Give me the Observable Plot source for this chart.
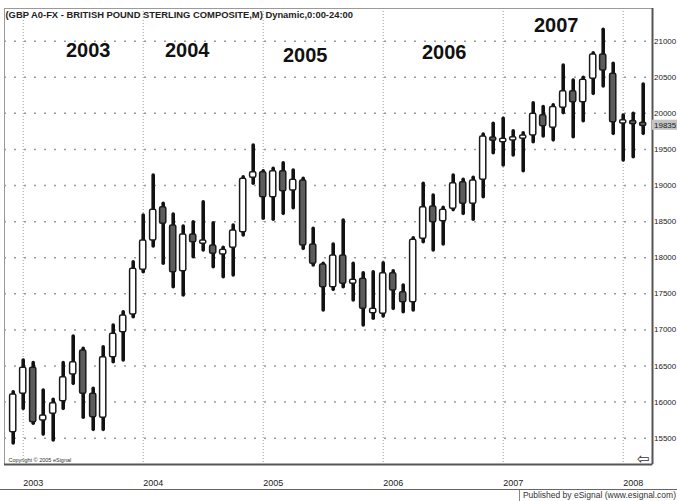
<!DOCTYPE html>
<html><head><meta charset="utf-8">
<script src="https://cdn.jsdelivr.net/npm/d3@7"></script>
<script src="https://cdn.jsdelivr.net/npm/@observablehq/plot@0.6"></script>
<style>
html,body{margin:0;padding:0;background:#fff;}
#chart{width:677px;height:501px;overflow:hidden;position:relative;background:#fff;}
#chart svg{position:absolute;left:0;top:0;}
#footer{position:absolute;left:0;top:489px;width:677px;height:12px;border-top:1px solid #666;}
#footer span{position:absolute;right:0;top:0;height:11px;font:8.5px "Liberation Sans Narrow","Liberation Sans",Arial,sans-serif;color:#333;border-left:1px solid #888;padding:0 1px 0 3px;line-height:11px;white-space:nowrap;}
</style></head><body><div id="chart"></div>
<script>
const months = ["2002-12",
 "2003-01","2003-02","2003-03","2003-04","2003-05","2003-06","2003-07","2003-08","2003-09","2003-10","2003-11","2003-12",
 "2004-01","2004-02","2004-03","2004-04","2004-05","2004-06","2004-07","2004-08","2004-09","2004-10","2004-11","2004-12",
 "2005-01","2005-02","2005-03","2005-04","2005-05","2005-06","2005-07","2005-08","2005-09","2005-10","2005-11","2005-12",
 "2006-01","2006-02","2006-03","2006-04","2006-05","2006-06","2006-07","2006-08","2006-09","2006-10","2006-11","2006-12",
 "2007-01","2007-02","2007-03","2007-04","2007-05","2007-06","2007-07","2007-08","2007-09","2007-10","2007-11","2007-12",
 "2008-01","2008-02","2008-03"];
const open = [15583,
 16115,16475,15745,15838,16012,16382,16715,16115,15783,16622,16968,17213,
 17832,18238,18700,18446,17813,18321,18201,18169,18044,18137,18353,19107,
 19184,18838,19198,18931,19069,18183,17906,17591,18030,17638,17708,17231,
 17223,17785,17522,17384,18262,18709,18506,18677,19046,18747,19079,19661,
 19600,19633,19647,19692,19972,19802,20077,20307,20154,20478,20814,20547,
 19877,19885,19860];
const high = [16137,
 16576,16540,16160,16032,16540,16909,16738,16184,16760,17061,17245,17938,
 18584,19139,18747,18598,18432,18492,18769,18478,18137,18446,19115,19554,
 19198,19231,19309,19208,19093,18400,17916,18183,18515,17916,17785,17799,
 17924,17813,17615,18270,19024,18861,18691,19139,19079,19107,19706,19855,
 19924,19752,19724,20139,20088,20111,20662,20454,20492,20832,21157,20686,
 19970,19993,20399];
const low = [15427,
 15907,15700,15550,15468,15907,16253,15783,15616,15616,16553,16576,17176,
 17799,18155,17916,17591,17476,18007,18100,17868,17730,17753,18307,19024,
 18539,18525,18608,18686,18123,17892,17269,17555,17591,17407,17061,17154,
 17186,17292,17245,17269,18215,18100,18183,18660,18608,18525,18838,19447,
 19277,19416,19198,19600,19679,19626,20003,19670,19891,20270,20371,19716,
 19346,19392,19716];
const close = [16105,
 16475,15720,15814,15985,16345,16553,16115,15791,16622,16946,17199,17846,
 18238,18663,18470,17799,18321,18215,18230,18054,18109,18377,19093,19184,
 18838,19198,18921,19079,18169,17916,17591,18030,17638,17694,17292,17292,
 17785,17546,17384,18248,18700,18492,18663,19032,18747,19069,19679,19623,
 19647,19661,19692,19993,19820,20088,20307,20154,20464,20814,20593,19877,
 19885,19860,19835];

const priceTicks = [15500,16000,16500,17000,17500,18000,18500,19000,19500,20000,20500,21000];
const yearLabels = ["2003","2004","2005","2006","2007","2008"];
const yearStartIdx = [1,13,25,37,49,61];
const annotText = ["2003","2004","2005","2006","2007"];
const annotIdx = [7.5,17.4,29.2,43.1,54.3];
const annotPrice = [20870,20870,20800,20842,21216];
const titleText = "(GBP A0-FX - BRITISH POUND STERLING COMPOSITE,M) Dynamic,0:00-24:00";
const copyrightText = "Copyright © 2005 eSignal";
const footerText = "Published by eSignal (www.esignal.com)";

const minBody = 45;
const data = months.map((m, i) => {
  const o = open[i], h = high[i], l = low[i], c = close[i];
  let bt = Math.max(o, c), bb = Math.min(o, c);
  if (bt - bb < minBody) { const mid = (bt + bb) / 2; bt = mid + minBody / 2; bb = mid - minBody / 2; }
  return {i, m, o, h, l, c, bt, bb, up: c >= o};
});

const X0 = -0.87, X1 = 63.93;
const Y0 = 15136, Y1 = 21452;
const narrow = '"Liberation Sans Narrow","Liberation Sans",Arial,sans-serif';
const lastClose = close[close.length - 1];

const chart = Plot.plot({
  width: 677, height: 490,
  marginLeft: 4, marginRight: 25, marginTop: 8, marginBottom: 26,
  x: {domain: [X0, X1], axis: null, label: null},
  y: {domain: [Y0, Y1], axis: null, label: null},
  style: {fontFamily: narrow, background: "#fff", overflow: "visible", color: "#222"},
  marks: [
    Plot.ruleY(priceTicks, {stroke: "#9a9a9a", strokeDasharray: "2,8", strokeWidth: 1.5}),
    Plot.ruleX(yearStartIdx, {stroke: "#9a9a9a", strokeDasharray: "1,2"}),
    Plot.frame({stroke: "#9a9a9a"}),
    Plot.ruleX([X1], {stroke: "#555", strokeWidth: 2}),
    Plot.ruleY([Y0], {stroke: "#555", strokeWidth: 2}),
    Plot.ruleX(data, {x: "i", y1: "l", y2: "h", stroke: "#111", strokeWidth: 3.6, strokeLinecap: "round"}),
    Plot.rect(data, {x1: d => d.i - 0.31, x2: d => d.i + 0.31, y1: "bb", y2: "bt",
      fill: d => d.up ? "#fff" : "#5c5c5c", stroke: "#1a1a1a", strokeWidth: 1.5, rx: 1.5}),
    Plot.rect([lastClose], {x1: X1, x2: X1 + 2.5, y1: d => d - 70, y2: d => d + 70, fill: "#c4c4c4"}),
    Plot.axisY(priceTicks, {anchor: "right", label: null, tickSize: 0, tickPadding: 1.5, fontSize: 8, tickFormat: d => String(d)}),
    Plot.text([lastClose], {x: X1, y: d => d, dx: 1.5, textAnchor: "start", text: d => String(d), fontSize: 8, fill: "#222"}),
    Plot.axisX(yearStartIdx, {anchor: "bottom", label: null, tickSize: 0, tickPadding: 15, fontSize: 9, textAnchor: "start",
      tickFormat: d => yearLabels[yearStartIdx.indexOf(d)]}),
    Plot.text(annotText, {x: (d, k) => annotIdx[k], y: (d, k) => annotPrice[k], text: d => d,
      fontSize: 20, fontWeight: "bold", fontFamily: '"Liberation Sans",Arial,sans-serif', fill: "#111"}),
    Plot.text([titleText], {frameAnchor: "top-left", dx: 1, dy: 3, fontSize: 9.4, fontWeight: "bold", fill: "#222", lineAnchor: "top"}),
    Plot.text([copyrightText], {frameAnchor: "bottom-left", dx: 4, dy: -3, fontSize: 5.5, fill: "#333"}),
    Plot.text(["⇦"], {frameAnchor: "bottom-right", dx: -3, dy: -1, fontSize: 15, fontFamily: '"DejaVu Sans",sans-serif', fill: "#333"})
  ]
});
const host = document.getElementById("chart");
host.appendChild(chart);
const footer = document.createElement("div");
footer.id = "footer";
const sp = document.createElement("span");
sp.textContent = footerText;
footer.appendChild(sp);
host.appendChild(footer);
</script>
</body></html>
